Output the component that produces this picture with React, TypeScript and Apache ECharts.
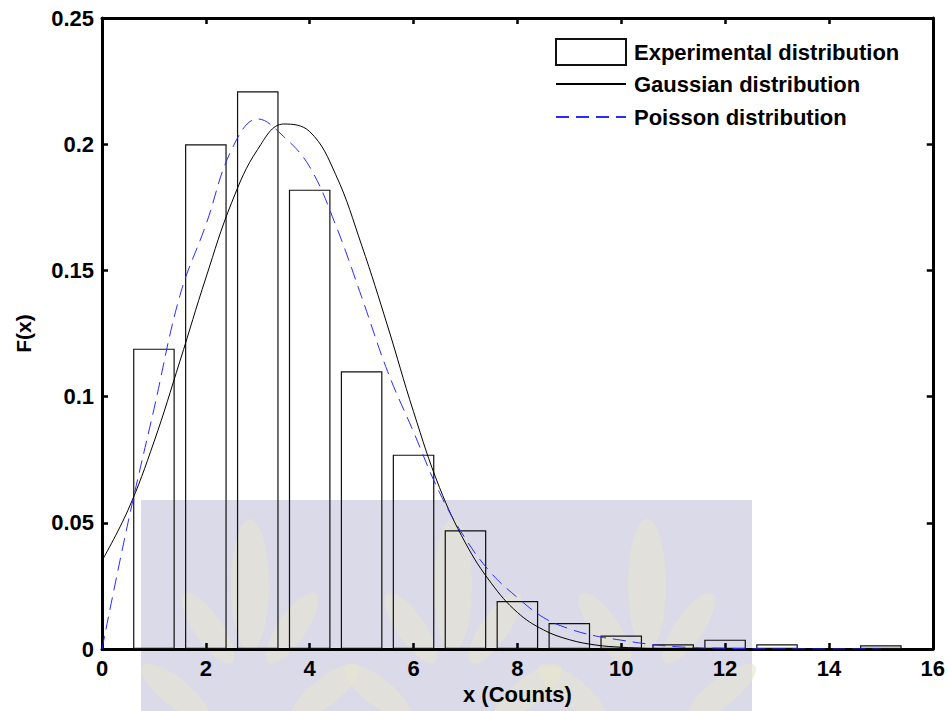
import React, { useEffect, useRef } from "react";
import * as echarts from "echarts";

// Histogram (experimental distribution)
const countX = [1, 2, 3, 4, 5, 6, 7, 8, 9, 10, 11, 12, 13, 14, 15];
const experimentalF = [0.119, 0.2, 0.221, 0.182, 0.11, 0.077, 0.047, 0.019, 0.0103, 0.0053, 0.0019, 0.0037, 0.0019, 0, 0.0015];

// Curves, read at 0.5 steps
const curveX = [0, 0.5, 1, 1.5, 2, 2.5, 3, 3.5, 4, 4.5, 5, 5.5, 6, 6.5, 7, 7.5, 8, 8.5, 9, 9.5, 10, 10.5, 11, 11.5, 12, 12.5, 13, 13.5, 14, 14.5, 15];
const gaussianF = [0.035, 0.055, 0.082, 0.114, 0.147, 0.177, 0.198, 0.208, 0.205, 0.188, 0.16, 0.128, 0.094, 0.064, 0.042, 0.026, 0.0145, 0.0076, 0.0037, 0.0016, 0.0007, 0.0003, 0.0001, 0, 0, 0, 0, 0, 0, 0, 0];
const poissonF = [0, 0.05, 0.095, 0.14, 0.168, 0.198, 0.21, 0.203, 0.191, 0.168, 0.1395, 0.11, 0.086, 0.062, 0.0437, 0.03, 0.0204, 0.0125, 0.008, 0.0052, 0.0035, 0.002, 0.001, 0.0005, 0.0003, 0.0001, 0, 0, 0, 0, 0];

// Ticks
const xTicks = [0, 2, 4, 6, 8, 10, 12, 14, 16];
const xTickLabels = ["0", "2", "4", "6", "8", "10", "12", "14", "16"];
const yTicks = [0, 0.05, 0.1, 0.15, 0.2, 0.25];
const yTickLabels = ["0", "0.05", "0.1", "0.15", "0.2", "0.25"];

const seriesNames = ["Experimental distribution", "Gaussian distribution", "Poisson distribution"];
const watermarkCenters = [250, 453, 647];

const FONT = "'Liberation Sans', Arial, sans-serif";

function lookup(ticks: number[], labels: string[], v: number) {
  const i = ticks.findIndex((t) => Math.abs(t - v) < 1e-9);
  return i >= 0 ? labels[i] : "";
}

export default function App() {
  const ref = useRef<HTMLDivElement>(null);
  useEffect(() => {
    if (!ref.current) return;
    const chart = echarts.init(ref.current, undefined, { renderer: "svg" });
    const labelStyle = { fontSize: 22, fontWeight: "bold", color: "#000", fontFamily: FONT };
    const axisLine = { show: true, onZero: false, lineStyle: { color: "#000", width: 3 } };
    const axisTick = { show: true, inside: true, length: 6, lineStyle: { color: "#000", width: 2.5 } };

    const leafFill = "rgba(232,228,208,0.6)";
    const leaves: any[] = [];
    watermarkCenters.forEach((cx) => {
      leaves.push({ type: "ellipse", x: cx, y: 585, shape: { cx: 0, cy: 0, rx: 19, ry: 66 }, style: { fill: leafFill }, z: -9, silent: true });
      leaves.push({ type: "ellipse", x: cx - 42, y: 628, rotation: 0.6, shape: { cx: 0, cy: 0, rx: 14, ry: 42 }, style: { fill: leafFill }, z: -9, silent: true });
      leaves.push({ type: "ellipse", x: cx + 42, y: 628, rotation: -0.6, shape: { cx: 0, cy: 0, rx: 14, ry: 42 }, style: { fill: leafFill }, z: -9, silent: true });
      leaves.push({ type: "ellipse", x: cx - 75, y: 692, rotation: 0.9, shape: { cx: 0, cy: 0, rx: 14, ry: 42 }, style: { fill: leafFill }, z: -9, silent: true });
      leaves.push({ type: "ellipse", x: cx + 75, y: 692, rotation: -0.9, shape: { cx: 0, cy: 0, rx: 14, ry: 42 }, style: { fill: leafFill }, z: -9, silent: true });
    });

    const hideSymbol = { color: "rgba(0,0,0,0)", borderWidth: 0, opacity: 0 };
    const legendBase = {
      orient: "vertical",
      left: 555,
      padding: 0,
      itemWidth: 70,
      itemHeight: 26,
      selectedMode: false,
      textStyle: { fontSize: 22, fontWeight: "bold", color: "#000", fontFamily: FONT, padding: [0, 0, 0, 3] },
    };

    chart.setOption({
      animation: false,
      backgroundColor: "#fff",
      graphic: {
        elements: [
          { type: "rect", shape: { x: 141, y: 500, width: 611, height: 211 }, style: { fill: "#dadae8" }, z: -10, silent: true },
          ...leaves,
        ],
      },
      grid: { left: 102, right: 15, top: 18, bottom: 62, containLabel: false },
      legend: [
        { ...legendBase, top: 38, data: [{ name: seriesNames[0], icon: "rect" }] },
        { ...legendBase, top: 73, data: [{ name: seriesNames[1], itemStyle: hideSymbol }] },
        { ...legendBase, top: 106, data: [{ name: seriesNames[2], itemStyle: hideSymbol }] },
      ],
      xAxis: [
        {
          type: "value",
          position: "bottom",
          min: 0,
          max: 16,
          interval: 2,
          axisLine,
          axisTick,
          splitLine: { show: false },
          axisLabel: { ...labelStyle, margin: 8, formatter: (v: number) => lookup(xTicks, xTickLabels, v) },
          name: "x (Counts)",
          nameLocation: "middle",
          nameGap: 33,
          nameTextStyle: { ...labelStyle },
        },
        {
          type: "value",
          position: "top",
          min: 0,
          max: 16,
          interval: 2,
          axisLine,
          axisTick,
          splitLine: { show: false },
          axisLabel: { show: false },
        },
      ],
      yAxis: [
        {
          type: "value",
          position: "left",
          min: 0,
          max: 0.25,
          interval: 0.05,
          axisLine,
          axisTick,
          splitLine: { show: false },
          axisLabel: { ...labelStyle, margin: 8, formatter: (v: number) => lookup(yTicks, yTickLabels, v) },
          name: "F(x)",
          nameLocation: "middle",
          nameRotate: 90,
          nameGap: 68,
          nameTextStyle: { ...labelStyle, fontSize: 21 },
        },
        {
          type: "value",
          position: "right",
          min: 0,
          max: 0.25,
          interval: 0.05,
          axisLine,
          axisTick,
          splitLine: { show: false },
          axisLabel: { show: false },
        },
      ],
      series: [
        {
          type: "bar",
          name: seriesNames[0],
          xAxisIndex: 0,
          yAxisIndex: 0,
          barWidth: 41.6,
          data: countX.map((x, i) => [x, experimentalF[i]]),
          itemStyle: { color: "rgba(0,0,0,0)", borderColor: "#111", borderWidth: 1.2 },
          z: 2,
        },
        {
          type: "line",
          name: seriesNames[1],
          xAxisIndex: 0,
          yAxisIndex: 0,
          data: curveX.map((x, i) => [x, gaussianF[i]]),
          symbol: "none",
          showSymbol: false,
          smooth: 0.4,
          lineStyle: { color: "#000", width: 1 },
          itemStyle: { color: "#000" },
          z: 3,
        },
        {
          type: "line",
          name: seriesNames[2],
          xAxisIndex: 0,
          yAxisIndex: 0,
          data: curveX.map((x, i) => [x, poissonF[i]]),
          symbol: "none",
          showSymbol: false,
          smooth: 0.4,
          lineStyle: { color: "#2a2aff", width: 1, type: [13, 7] },
          itemStyle: { color: "#2a2aff" },
          z: 4,
        },
      ],
    });
    return () => chart.dispose();
  }, []);
  return <div ref={ref} style={{ position: "absolute", left: 0, top: 0, width: 948, height: 711 }} />;
}
